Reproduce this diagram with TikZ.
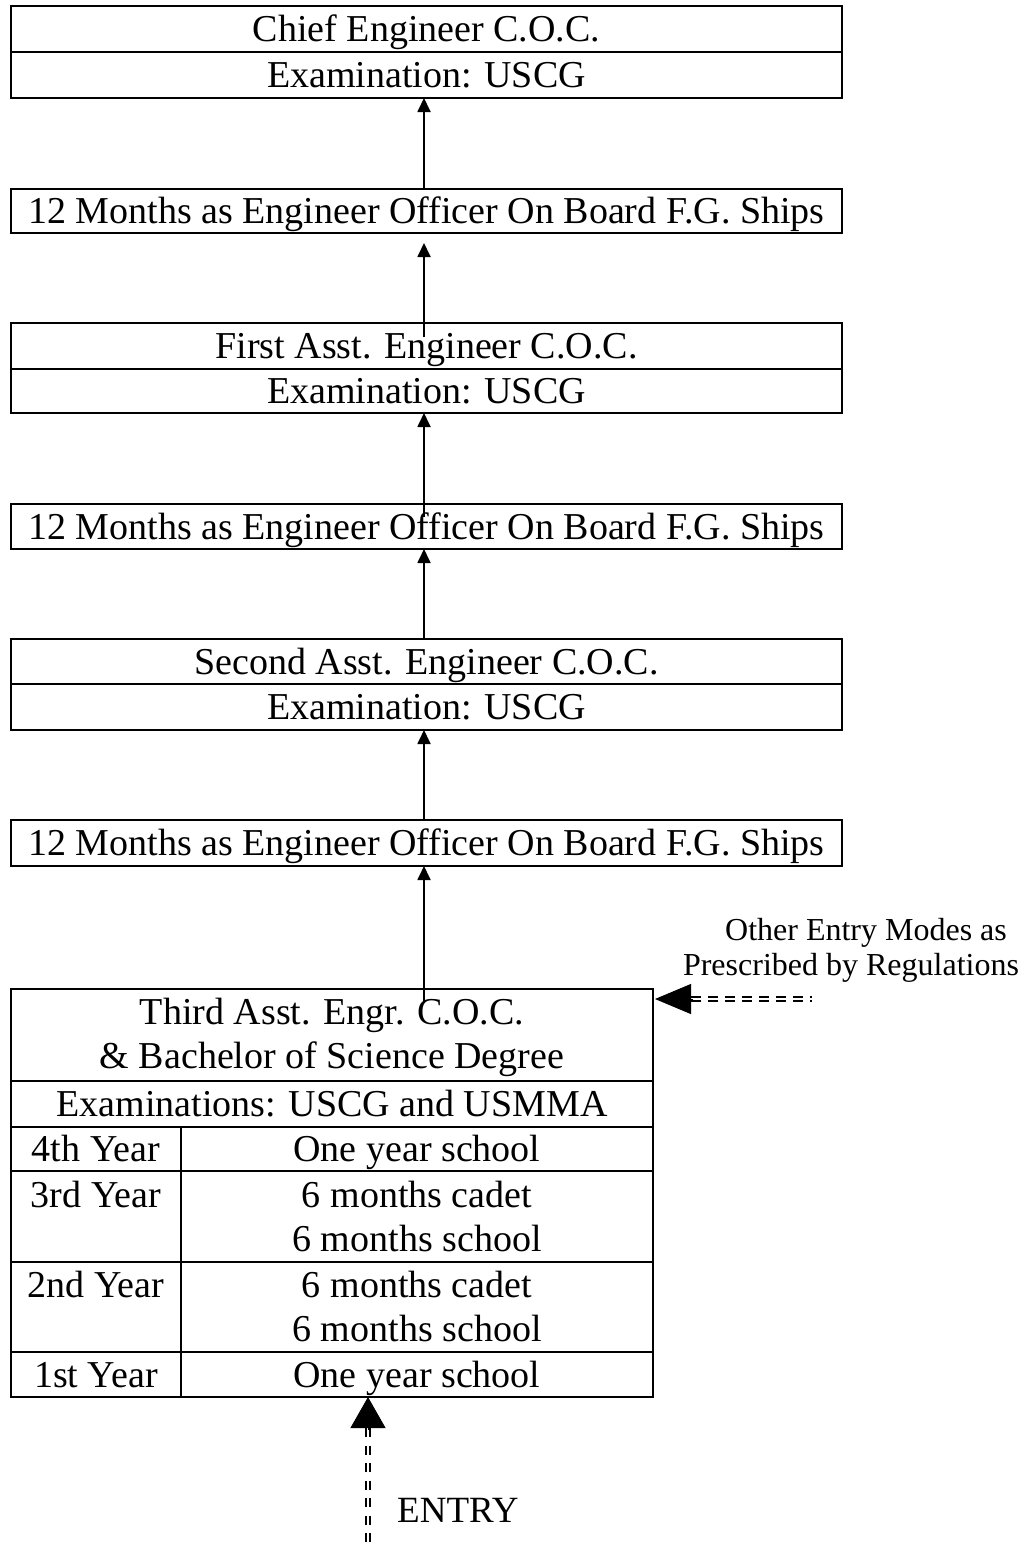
\documentclass[tikz,border=0pt]{standalone}
\usepackage{fontspec}
\setmainfont{Liberation Serif}
\usetikzlibrary{arrows.meta,calc}
\begin{document}
\begin{tikzpicture}[x=1pt,y=-1pt,
  cell/.style={draw, line width=2pt, inner sep=0pt, outer sep=0pt},
  txt/.style={font=\fontsize{38pt}{44pt}\selectfont, inner sep=0pt, text height=30pt, text depth=5pt},
  lbl/.style={font=\fontsize{38pt}{44pt}\selectfont, inner sep=0pt, anchor=base},
  small/.style={font=\fontsize{32pt}{38pt}\selectfont, inner sep=0pt, anchor=base},
  up/.style={line width=1.8pt, -{Triangle[length=14pt,width=13pt]}},
  dbl/.style={line width=1.7pt, double distance=2.4pt, dash pattern=on 10pt off 7pt}
]
\useasboundingbox (0,0) rectangle (1026,1547);

% top boxes
\node[cell, txt, minimum width=831pt, minimum height=46pt] (c1) at (426.5,29) {Chief Engineer C.O.C.};
\node[cell, txt, minimum width=831pt, minimum height=46pt] (c1e) at (426.5,75) {Examination: USCG};
\node[cell, txt, minimum width=831pt, minimum height=44pt] (c2) at (426.5,211) {12 Months as Engineer Officer On Board F.G. Ships};
\node[cell, txt, minimum width=831pt, minimum height=46pt] (c3) at (426.5,346) {First Asst. Engineer C.O.C.};
\node[cell, txt, minimum width=831pt, minimum height=44pt] (c3e) at (426.5,391) {Examination: USCG};
\node[cell, txt, minimum width=831pt, minimum height=45pt] (c4) at (426.5,526.5) {12 Months as Engineer Officer On Board F.G. Ships};
\node[cell, txt, minimum width=831pt, minimum height=45pt] (c5) at (426.5,661.5) {Second Asst. Engineer C.O.C.};
\node[cell, txt, minimum width=831pt, minimum height=46pt] (c5e) at (426.5,707) {Examination: USCG};
\node[cell, txt, minimum width=831pt, minimum height=46pt] (c6) at (426.5,843) {12 Months as Engineer Officer On Board F.G. Ships};

% bottom table
\node[cell, minimum width=642pt, minimum height=92pt] (t7) at (332,1035) {};
\node[lbl] (t7a) at (332,1024) {Third Asst. Engr. C.O.C.};
\node[lbl] (t7b) at (332,1068) {\& Bachelor of Science Degree};
\node[cell, txt, minimum width=642pt, minimum height=46pt] (e7) at (332,1104) {Examinations: USCG and USMMA};
\node[cell, txt, minimum width=170pt, minimum height=44pt] (r4l) at (96,1149) {4th Year};
\node[cell, txt, minimum width=472pt, minimum height=44pt] (r4r) at (417,1149) {One year school};
\node[cell, minimum width=170pt, minimum height=91pt] (r3l) at (96,1216.5) {};
\node[cell, minimum width=472pt, minimum height=91pt] (r3r) at (417,1216.5) {};
\node[lbl] (r3lt) at (96,1207) {3rd Year};
\node[lbl] (r3ra) at (417,1207) {6 months cadet};
\node[lbl] (r3rb) at (417,1251) {6 months school};
\node[cell, minimum width=170pt, minimum height=90pt] (r2l) at (96,1307) {};
\node[cell, minimum width=472pt, minimum height=90pt] (r2r) at (417,1307) {};
\node[lbl] (r2lt) at (96,1297) {2nd Year};
\node[lbl] (r2ra) at (417,1297) {6 months cadet};
\node[lbl] (r2rb) at (417,1341) {6 months school};
\node[cell, txt, minimum width=170pt, minimum height=45pt] (r1l) at (96,1374.5) {1st Year};
\node[cell, txt, minimum width=472pt, minimum height=45pt] (r1r) at (417,1374.5) {One year school};

% upward arrows
\draw[up] ([xshift=-2.5pt]c2.north) -- ([xshift=-2.5pt]c1e.south);
\draw[up] ([xshift=-2.5pt,yshift=-14pt]c3.north) -- ([xshift=-2.5pt,yshift=-10pt]c2.south);
\draw[up] ([xshift=-2.5pt,yshift=-13pt]c4.north) -- ([xshift=-2.5pt]c3e.south);
\draw[up] ([xshift=-2.5pt]c5.north) -- ([xshift=-2.5pt]c4.south);
\draw[up] ([xshift=-2.5pt]c6.north) -- ([xshift=-2.5pt]c5e.south);
\coordinate (a6s) at ($(t7.north -| c6.south)+(-2.5,14)$);
\draw[up] (a6s) -- ([xshift=-2.5pt]c6.south);

% other entry modes
\node[small] (om1) at (866,940) {Other Entry Modes as};
\node[small] (om2) at (851,975) {Prescribed by Regulations};
\coordinate (oe) at (812,999);
\coordinate (oetip) at ($(oe -| t7.east)+(2,0)$);
\draw[dbl] ($(oetip)+(36,0)$) -- (oe);
\draw[line width=1pt, -{Triangle[length=36pt,width=30pt]}] ($(oetip)+(38,0)$) -- (oetip);

% entry
\coordinate (en) at (368,1547);
\coordinate (entip) at (en |- r1r.south);
\draw[dbl, dash pattern=on 9pt off 8.5pt] ($(entip)+(0,31)$) -- (en);
\draw[line width=1pt, -{Triangle[length=31pt,width=35pt]}] ($(entip)+(0,33)$) -- (entip);
\node[lbl, font=\fontsize{37pt}{44pt}\selectfont, anchor=base west] (entry) at (397,1522) {ENTRY};
\end{tikzpicture}
\end{document}
